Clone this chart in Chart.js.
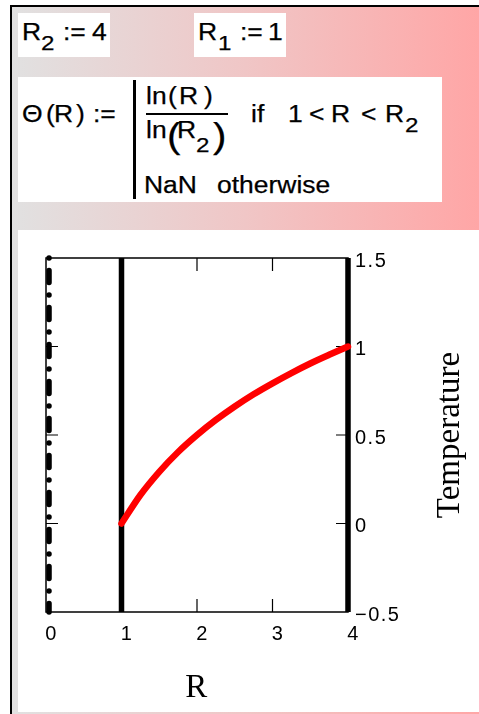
<!DOCTYPE html>
<html>
<head>
<meta charset="utf-8">
<script src="https://cdn.jsdelivr.net/npm/chart.js@4.4.1/dist/chart.umd.min.js"></script>
<style>
  html, body { margin: 0; padding: 0; width: 479px; height: 714px; overflow: hidden; background: #fff; }
  #sheet {
    position: absolute; left: 10px; top: 5px; width: 469px; height: 709px;
    box-sizing: border-box; border-left: 2px solid #000; border-top: 2px solid #000;
    background: linear-gradient(90deg, #e1e1e1 0%, #f0c6c6 50%, #ffa6a6 100%);
  }
  .box { position: absolute; background: #fff; }
  .t {
    position: absolute; font-family: 'Liberation Sans', Arial, sans-serif;
    white-space: nowrap; color: #000; -webkit-text-stroke: 0.25px #000;
    transform: scaleX(1.15); transform-origin: 0 0;
  }
  .rule { position: absolute; background: #000; }
  #plotPanel { position: absolute; left: 18px; top: 230px; width: 461px; height: 482px; background: #fff; }
  #plot { position: absolute; left: 0; top: 0; }
</style>
</head>
<body>
<div id="sheet"></div>

<div class="box" style="left:18px;top:13px;width:92px;height:44px;"></div>
<div class="box" style="left:194px;top:13px;width:92px;height:44px;"></div>
<div class="box" style="left:18px;top:77px;width:424px;height:125px;"></div>
<div class="rule" style="left:133px;top:80px;width:3px;height:119px;"></div>
<div class="rule" style="left:146px;top:113px;width:82px;height:2px;"></div>
<div id="formulas"></div>

<div id="plotPanel"><canvas id="plot" width="461" height="482"></canvas></div>

<script>
// Worksheet definitions: [text, left, baseline, font size]
const formulaPieces = [
  // R2 := 4
  ['R', 21.5, 40, 23], ['2', 41, 50, 21], [':=', 63, 40, 23], ['4', 92, 40, 23],
  // R1 := 1
  ['R', 198.3, 40, 23], ['1', 218, 50, 21], [':=', 240, 40, 23], ['1', 267.5, 40, 23],
  // Θ(R) := | ln(R)/ln(R2) if 1 < R < R2 ; NaN otherwise
  ['Θ', 21.8, 122, 23], ['(', 45.5, 122, 23], ['R', 53.5, 122, 23], [')', 75.5, 122, 23], [':=', 93, 122, 23],
  ['ln', 145.5, 104, 23], ['(', 168, 104, 23], ['R', 178.5, 104, 23], [')', 204, 104, 23],
  ['ln', 146, 138, 23], ['(', 166.5, 147.5, 35], ['R', 177, 138, 23], ['2', 196, 152, 21], [')', 213, 147.5, 35],
  ['if', 250.5, 122, 23], ['1', 287.6, 122, 23], ['<', 309, 122, 23], ['R', 331.3, 122, 23],
  ['<', 361, 122, 23], ['R', 385.3, 122, 23], ['2', 404.5, 132, 21],
  ['NaN', 144.3, 193, 23], ['otherwise', 217, 193, 23]
];
const formulaLayer = document.getElementById('formulas');
formulaPieces.forEach(([text, left, baseline, size]) => {
  const s = document.createElement('span');
  s.className = 't';
  s.textContent = text;
  s.style.fontSize = size + 'px';
  s.style.lineHeight = size + 'px';
  s.style.left = left + 'px';
  s.style.top = (baseline - 0.8465 * size) + 'px';
  formulaLayer.appendChild(s);
});

// Radius samples and the temperature Θ(R) = ln(R)/ln(R2) read at each one
const rValues = [1, 1.25, 1.5, 1.75, 2, 2.25, 2.5, 2.75, 3, 3.25, 3.5, 3.75, 4];
const thetaValues = [0, 0.161, 0.292, 0.404, 0.5, 0.585, 0.661, 0.730, 0.792, 0.850, 0.904, 0.953, 1];

// Vertical traces: inner wall R1, outer wall R2 and the dotted trace near R = 0
const innerWallR = [1, 1];
const outerWallR = [4, 4];
const originTraceR = [0.04, 0.04];
const wallTheta = [1.5, -0.5];

// Tick labels
const xTickLabels = ['0', '1', '2', '3', '4'];
const yTickLabels = ['\u22120.5', '0', '0.5', '1', '1.5'];

const toPoints = (xs, ys) => xs.map((v, i) => ({ x: v, y: ys[i] }));

// Frame with inward tick marks, plus the rotated "Temperature" caption
const framePlugin = {
  id: 'mathcadFrame',
  beforeDraw(chart) {
    chart.ctx.letterSpacing = '1.5px';
  },
  beforeDatasetsDraw(chart) {
    const { ctx, chartArea: a, scales: { x, y } } = chart;
    ctx.save();
    ctx.strokeStyle = '#000';
    ctx.lineWidth = 1.5;
    ctx.strokeRect(a.left, a.top, a.right - a.left, a.bottom - a.top);
    ctx.lineWidth = 1.2;
    ctx.beginPath();
    y.ticks.forEach(t => {
      if (t.value <= y.min || t.value >= y.max) return;
      const py = y.getPixelForValue(t.value);
      ctx.moveTo(a.left, py); ctx.lineTo(a.left + 12, py);
      ctx.moveTo(a.right, py); ctx.lineTo(a.right - 12, py);
    });
    x.ticks.forEach(t => {
      if (t.value <= x.min || t.value >= x.max) return;
      const px = x.getPixelForValue(t.value);
      ctx.moveTo(px, a.top); ctx.lineTo(px, a.top + 13);
      ctx.moveTo(px, a.bottom); ctx.lineTo(px, a.bottom - 13);
    });
    ctx.stroke();
    ctx.restore();
  },
  afterDraw(chart) {
    const { ctx, chartArea: a, scales: { y } } = chart;
    ctx.save();
    ctx.letterSpacing = '0px';
    ctx.translate(y.right - 28.4, (a.top + a.bottom) / 2);
    ctx.rotate(-Math.PI / 2);
    ctx.font = '33px "Liberation Serif", "Times New Roman", serif';
    ctx.fillStyle = '#000';
    ctx.textAlign = 'center';
    ctx.textBaseline = 'middle';
    ctx.fillText('Temperature', 0, 0);
    ctx.restore();
  }
};

const tickFont = { family: "'Liberation Sans', Arial, sans-serif", size: 20 };

new Chart(document.getElementById('plot'), {
  type: 'scatter',
  data: {
    datasets: [
      {
        label: 'Θ(R)',
        data: toPoints(rValues, thetaValues),
        showLine: true,
        borderColor: '#ff0000',
        borderWidth: 6.5,
        borderCapStyle: 'round',
        borderJoinStyle: 'round',
        cubicInterpolationMode: 'monotone',
        pointRadius: 0,
        clip: false,
        order: 0
      },
      {
        label: 'R1',
        data: toPoints(innerWallR, wallTheta),
        showLine: true,
        borderColor: '#000',
        borderWidth: 5.5,
        pointRadius: 0,
        clip: false,
        order: 1
      },
      {
        label: 'R2',
        data: toPoints(outerWallR, wallTheta),
        showLine: true,
        borderColor: '#000',
        borderWidth: 5.5,
        pointRadius: 0,
        clip: false,
        order: 1
      },
      {
        label: 'R0',
        data: toPoints(originTraceR, wallTheta),
        showLine: true,
        borderColor: '#000',
        borderWidth: 5.5,
        borderDash: [0, 12.5, 12, 12.5],
        borderCapStyle: 'round',
        pointRadius: 0,
        clip: false,
        order: 2
      }
    ]
  },
  options: {
    responsive: false,
    animation: false,
    events: [],
    layout: { padding: { left: 28, top: 28, right: 0, bottom: 0 } },
    plugins: { legend: { display: false }, tooltip: { enabled: false } },
    scales: {
      x: {
        type: 'linear',
        position: 'bottom',
        min: 0,
        max: 4,
        grid: { display: false, drawTicks: false },
        border: { display: false },
        ticks: {
          stepSize: 1,
          autoSkip: false,
          maxRotation: 0,
          padding: 10,
          labelOffset: 5.5,
          color: '#000',
          font: tickFont,
          callback: (v, i) => xTickLabels[i]
        },
        title: {
          display: true,
          text: 'R',
          color: '#000',
          font: { family: "'Liberation Serif', 'Times New Roman', serif", size: 33 },
          padding: { top: 0, bottom: 4 }
        },
        afterFit(scale) { scale.height = 100; }
      },
      y: {
        type: 'linear',
        position: 'right',
        min: -0.5,
        max: 1.5,
        grid: { display: false, drawTicks: false },
        border: { display: false },
        ticks: {
          stepSize: 0.5,
          autoSkip: false,
          padding: 7,
          labelOffset: 3,
          color: '#000',
          font: tickFont,
          callback: (v, i) => yTickLabels[i]
        },
        afterFit(scale) { scale.width = 131; }
      }
    }
  },
  plugins: [framePlugin]
});
</script>
</body>
</html>
